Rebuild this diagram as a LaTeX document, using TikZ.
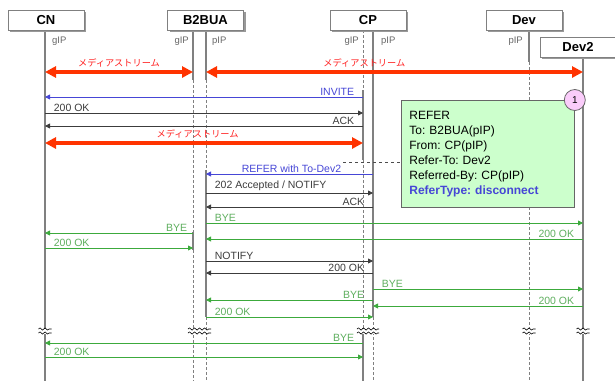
\documentclass[tikz,border=0pt]{standalone}
\usepackage{fontspec}
\setmainfont{Liberation Sans}
\newfontfamily\jpfont{Noto Sans CJK JP}
\usetikzlibrary{arrows.meta,positioning,shadows,decorations.pathmorphing}
\frenchspacing

\definecolor{lifegray}{HTML}{808080}
\definecolor{streamred}{HTML}{FF3300}
\definecolor{streamtxt}{HTML}{FF2020}
\definecolor{msgblue}{HTML}{4646D6}
\definecolor{msggreen}{HTML}{3CAA3C}
\definecolor{lblgreen}{HTML}{5EAE5E}
\definecolor{msgblack}{HTML}{3C3C3C}
\definecolor{notegreen}{HTML}{CCFFCC}
\definecolor{markpink}{HTML}{FACCFA}

\begin{document}
\begin{tikzpicture}[x=1pt, y=-1pt,
    head/.style={draw=lifegray, fill=white, line width=0.8pt, minimum width=76pt,
      minimum height=20pt, font=\bfseries\fontsize{13}{13}\selectfont,
      drop shadow={shadow xshift=2pt, shadow yshift=-2pt, fill=black!40, opacity=1}},
    ifname/.style={font=\fontsize{9.5}{10}\selectfont, text=black!60, inner sep=0pt},
    act/.style={draw=lifegray, line width=1.1pt},
    idle/.style={draw=lifegray, line width=0.9pt, dash pattern=on 3pt off 2pt},
    stream/.style={draw=streamred, line width=4pt,
      {Triangle[length=11pt,width=11pt]}-{Triangle[length=11pt,width=11pt]}},
    streamlbl/.style={font=\jpfont\fontsize{9.2}{9.2}\selectfont, text=streamtxt, inner sep=1pt},
    msg/.style={line width=0.8pt, -{Triangle[length=5pt,width=5pt]}},
    bluemsg/.style={msg, draw=msgblue, every node/.append style={text=msgblue}},
    blkmsg/.style={msg, draw=msgblack, every node/.append style={text=msgblack}},
    grnmsg/.style={msg, draw=msggreen, every node/.append style={text=lblgreen}},
    lbl/.style={inner sep=1.5pt, font=\fontsize{10.5}{10.5}\selectfont},
    lr/.style={lbl, pos=0, anchor=south west, xshift=7pt},
    ll/.style={lbl, pos=0, anchor=south east, xshift=-7pt},
    note/.style={draw=black!60, fill=notegreen, line width=0.8pt, align=left,
      text width=157pt, inner xsep=8pt, minimum height=107pt,
      font=\fontsize{12}{15}\selectfont},
    numcircle/.style={circle, draw=black!60, fill=markpink, line width=0.8pt,
      minimum size=21pt, inner sep=0pt, font=\fontsize{10}{10}\selectfont},
    brk/.style={draw=black, line width=0.6pt, decorate,
      decoration={snake, amplitude=1.1pt, segment length=5pt}}
  ]
  \useasboundingbox (0,0) rectangle (615,381);

  % lifelines
  \coordinate (cn) at (45,0);
  \coordinate (bg) at (193,0);
  \coordinate (bp) at (206,0);
  \coordinate (cg) at (363,0);
  \coordinate (cp) at (373,0);
  \coordinate (dv) at (529,0);
  \coordinate (d2) at (583,0);

  \draw[act] (cn |- 0,30) -- (cn |- 0,381);
  \draw[act] (bg |- 0,30) -- (bg |- 0,80);
  \draw[idle] (bg |- 0,80) -- (bg |- 0,232);
  \draw[act] (bg |- 0,232) -- (bg |- 0,250);
  \draw[idle] (bg |- 0,250) -- (bg |- 0,381);
  \draw[act] (bp |- 0,30) -- (bp |- 0,80);
  \draw[idle] (bp |- 0,80) -- (bp |- 0,170);
  \draw[act] (bp |- 0,170) -- (bp |- 0,317);
  \draw[idle] (bp |- 0,317) -- (bp |- 0,381);
  \draw[idle] (cg |- 0,30) -- (cg |- 0,90);
  \draw[act] (cg |- 0,90) -- (cg |- 0,160);
  \draw[idle] (cg |- 0,160) -- (cg |- 0,328);
  \draw[act] (cg |- 0,328) -- (cg |- 0,381);
  \draw[act] (cp |- 0,30) -- (cp |- 0,317);
  \draw[idle] (cp |- 0,317) -- (cp |- 0,381);
  \draw[act] (dv |- 0,30) -- (dv |- 0,62);
  \draw[idle] (dv |- 0,62) -- (dv |- 0,381);
  \draw[act] (d2 |- 0,57) -- (d2 |- 0,381);

  % heads
  \node[head] (cnbox) at (46,20) {CN};
  \node[head] (b2bua) at (205.5,20) {B2BUA};
  \node[head] (cpbox) at (368,20) {CP};
  \node[head] (dev) at (524,20) {Dev};
  \node[head] (dev2) at (578,47) {Dev2};

  \node[ifname, anchor=west] (cngip) at (52,41) {gIP};
  \node[ifname, anchor=east] (bgip) at (189,41) {gIP};
  \node[ifname, anchor=west] (bpip) at (212,41) {pIP};
  \node[ifname, anchor=east] (cgip) at (359,41) {gIP};
  \node[ifname, anchor=west] (cpip) at (381,41) {pIP};
  \node[ifname, anchor=east] (dvpip) at (523,41) {pIP};

  % media
  \draw[stream] (cn |- 0,72) -- (bg |- 0,72)
    node[streamlbl, midway, above=2pt] (media1) {メディアストリーム};
  \draw[stream] (bp |- 0,72) -- (d2 |- 0,72)
    node[streamlbl, pos=0.42, above=2pt] (media2) {メディアストリーム};

  % messages
  \draw[bluemsg] (cg |- 0,97) -- (cn |- 0,97) node[ll] (m1) {INVITE};
  \draw[blkmsg] (cn |- 0,113) -- (cg |- 0,113) node[lr] (m2) {200 OK};
  \draw[blkmsg] (cg |- 0,126) -- (cn |- 0,126) node[ll] (m3) {ACK};
  \draw[stream] (cg |- 0,143) -- (cn |- 0,143)
    node[streamlbl, pos=0.52, above=2pt] (media3) {メディアストリーム};
  \draw[bluemsg] (cp |- 0,174) -- (bp |- 0,174)
    node[lbl, pos=0, anchor=south east, xshift=-30pt] (reflbl) {REFER with To-Dev2};
  \draw[blkmsg] (bp |- 0,193) -- (cp |- 0,193) node[lr] (m5) {202 Accepted / NOTIFY};
  \draw[blkmsg] (cp |- 0,207) -- (bp |- 0,207) node[ll] (m6) {ACK};
  \draw[grnmsg] (bp |- 0,223) -- (d2 |- 0,223) node[lr] (m7) {BYE};
  \draw[grnmsg] (bg |- 0,233) -- (cn |- 0,233) node[ll, xshift=3pt] (m8) {BYE};
  \draw[grnmsg] (d2 |- 0,239) -- (bp |- 0,239) node[ll] (m9) {200 OK};
  \draw[grnmsg] (cn |- 0,248) -- (bg |- 0,248) node[lr] (m10) {200 OK};
  \draw[blkmsg] (bp |- 0,261) -- (cp |- 0,261) node[lr] (m11) {NOTIFY};
  \draw[blkmsg] (cp |- 0,273) -- (bp |- 0,273) node[ll] (m12) {200 OK};
  \draw[grnmsg] (cp |- 0,289) -- (d2 |- 0,289) node[lr] (m13) {BYE};
  \draw[grnmsg] (cp |- 0,300) -- (bp |- 0,300) node[ll] (m14) {BYE};
  \draw[grnmsg] (d2 |- 0,306) -- (cp |- 0,306) node[ll] (m15) {200 OK};
  \draw[grnmsg] (bp |- 0,317) -- (cp |- 0,317) node[lr] (m16) {200 OK};
  \draw[grnmsg] (cg |- 0,343) -- (cn |- 0,343) node[ll] (m17) {BYE};
  \draw[grnmsg] (cn |- 0,357) -- (cg |- 0,357) node[lr] (m18) {200 OK};

  % note
  \node[note, anchor=north west] (note) at (401,100)
    {REFER\\To: B2BUA(pIP)\\From: CP(pIP)\\Refer-To: Dev2\\Referred-By: CP(pIP)\\
     {\color{msgblue}\bfseries ReferType: disconnect}};
  \node[numcircle] (mark1) at (note.north east) {1};
  \draw[draw=black!70, dashed] (reflbl.north east) -- (reflbl.north east -| note.west);

  % breaks
  \foreach \x/\w in {45/6.5, 199.5/11.5, 368/11, 529/6.5, 583/6.5} {
    \fill[white] (\x-\w,328.5) rectangle (\x+\w,333.5);
    \draw[brk] (\x-\w,329) -- (\x+\w,329);
    \draw[brk] (\x-\w,333) -- (\x+\w,333);
  }
\end{tikzpicture}
\end{document}
